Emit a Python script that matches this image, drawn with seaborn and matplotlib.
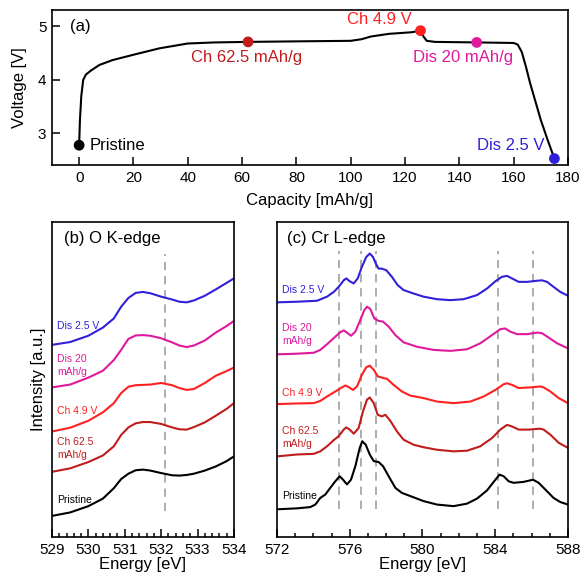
import numpy as np
import pandas as pd
import matplotlib
matplotlib.use("Agg")
import matplotlib.pyplot as plt
from matplotlib.ticker import MultipleLocator
import seaborn as sns

# (a) voltage profile
capacity = [0, 0.3, 0.8, 1.5, 2.5, 4.5, 7.5, 12.3, 20, 29.6, 40, 50, 62, 80, 100,
            104, 107.4, 114, 122.4, 125.7, 126.8, 128, 131, 146.4, 160, 161.5,
            163, 164.5, 166, 168, 170, 172.5, 175]
voltage = [2.78, 3.25, 3.7, 4.0, 4.1, 4.18, 4.28, 4.37, 4.47, 4.59, 4.68, 4.70,
           4.71, 4.72, 4.73, 4.76, 4.81, 4.86, 4.89, 4.92, 4.81, 4.73, 4.71, 4.70,
           4.69, 4.66, 4.52, 4.25, 3.95, 3.6, 3.25, 2.88, 2.53]

states = ["Pristine", "Ch 62.5 mAh/g", "Ch 4.9 V", "Dis 20 mAh/g", "Dis 2.5 V"]
state_cap = [0, 62.2, 125.7, 146.4, 175]
state_volt = [2.78, 4.71, 4.92, 4.70, 2.53]
state_colors = ["#000000", "#c01c1c", "#ff2020", "#e0189c", "#3020d8"]

# (b) O K-edge
o_energy = [529, 529.5, 530, 530.4, 530.7, 530.9, 531.1, 531.3, 531.5, 531.7,
            532.0, 532.3, 532.5, 532.7, 532.9, 533.2, 533.5, 533.8, 534]
o_pristine = [6.7, 7.8, 9.8, 12.2, 15.5, 18.4, 20.1, 21.2, 21.4, 21.1, 20.3, 19.6,
              19.5, 19.7, 20.1, 21.1, 22.4, 24.1, 25.6]
o_ch62 = [20.7, 21.8, 23.8, 25.9, 28.8, 32.4, 34.8, 36.1, 36.5, 36.5, 35.9, 34.8,
          34.2, 34.1, 34.9, 36.4, 38.5, 40.7, 42.5]
o_ch49 = [33.5, 34.7, 36.9, 39.6, 42.5, 45.7, 47.7, 48.2, 48.3, 48.4, 48.9, 48.2,
          47.3, 46.7, 47.0, 48.9, 51.2, 52.7, 53.8]
o_dis20 = [47.5, 48.4, 50.6, 52.8, 56.2, 59.4, 62.9, 64.0, 64.1, 63.9, 63.1, 61.8,
           60.8, 60.3, 60.8, 62.4, 64.9, 67.0, 68.6]
o_dis25 = [61.0, 61.9, 63.9, 66.5, 69.4, 73.1, 75.9, 77.5, 77.8, 77.4, 76.3, 75.4,
           74.7, 74.5, 75.1, 76.6, 78.6, 80.7, 82.1]
o_marks = [532.1]

# (c) Cr L-edge
cr_e_pristine = [572.00, 573.10, 573.83, 574.11, 574.38, 574.66, 574.93, 575.21,
                 575.45, 575.63, 575.85, 576.07, 576.31, 576.55, 576.69, 576.88,
                 577.10, 577.32, 577.59, 577.83, 578.14, 578.51, 578.87, 579.33,
                 580.06, 580.80, 581.71, 582.45, 583.00, 583.55, 584.01, 584.24,
                 584.46, 584.74, 585.01, 585.56, 586.08, 586.39, 586.75, 587.21,
                 587.58, 588.00]
cr_pristine = [8.8, 9.1, 9.5, 10.3, 12.4, 13.5, 15.6, 17.7, 19.3, 18.2, 16.7, 18.2,
               22.5, 28.3, 30.4, 29.3, 26.2, 24.1, 23.8, 22.5, 19.3, 15.6, 14.0,
               13.0, 11.4, 10.3, 9.8, 10.6, 12.2, 14.8, 18.2, 19.8, 19.3, 17.7,
               17.2, 17.5, 18.2, 17.2, 15.1, 12.4, 11.1, 10.3]
cr_e_ch62 = [572.00, 573.10, 574.02, 574.38, 574.75, 575.15, 575.39, 575.67, 575.81,
             576.00, 576.22, 576.49, 576.73, 576.95, 577.10, 577.32, 577.54, 577.77,
             577.96, 578.23, 578.60, 578.96, 579.51, 580.06, 580.80, 581.71, 582.45,
             583.18, 583.82, 584.28, 584.65, 584.92, 585.29, 585.84, 586.48, 586.66,
             587.03, 587.49, 588.00]
cr_ch62 = [25.6, 26.2, 26.4, 27.2, 28.8, 30.9, 32.0, 34.1, 34.8, 34.1, 32.8, 34.6,
           39.9, 43.6, 44.3, 42.5, 38.8, 38.3, 38.8, 36.9, 33.5, 30.9, 29.3, 28.5,
           27.7, 27.2, 27.4, 28.8, 31.4, 34.1, 35.6, 35.1, 34.1, 34.1, 34.4, 34.1,
           32.5, 29.9, 28.3]
cr_e_ch49 = [572.00, 573.10, 574.02, 574.38, 574.75, 575.21, 575.57, 575.76, 575.94,
             576.18, 576.40, 576.67, 576.91, 577.10, 577.32, 577.54, 577.77, 578.05,
             578.41, 578.87, 579.33, 580.06, 580.80, 581.71, 582.63, 583.36, 584.01,
             584.46, 584.65, 584.92, 585.29, 585.93, 586.48, 586.66, 587.03, 587.49,
             588.00]
cr_ch49 = [42.2, 42.4, 42.5, 43.2, 44.6, 46.2, 47.5, 48.1, 47.6, 46.7, 47.8, 51.5,
           53.9, 54.4, 53.1, 51.0, 50.6, 50.2, 48.3, 46.2, 44.9, 44.1, 43.0, 42.5,
           43.0, 44.6, 46.7, 48.5, 48.8, 48.3, 47.3, 47.5, 47.8, 47.5, 46.2, 44.1,
           42.5]
cr_e_dis20 = [572.00, 573.10, 574.02, 574.38, 574.75, 575.15, 575.48, 575.67, 575.89,
              576.07, 576.31, 576.58, 576.80, 576.95, 577.13, 577.35, 577.59, 577.83,
              578.14, 578.51, 578.96, 579.70, 580.61, 581.53, 582.45, 583.18, 583.82,
              584.28, 584.55, 584.83, 585.20, 585.75, 586.30, 586.57, 586.94, 587.40,
              588.00]
cr_dis20 = [58.0, 58.2, 58.5, 59.4, 61.2, 63.3, 65.0, 65.6, 64.7, 63.9, 65.2, 68.9,
            72.0, 73.1, 72.4, 69.4, 68.6, 68.4, 66.8, 64.1, 61.8, 60.4, 59.4, 59.1,
            59.6, 61.5, 64.1, 66.0, 66.2, 65.2, 64.4, 64.4, 64.9, 64.7, 63.3, 61.5,
            59.9]
cr_e_dis25 = [572.00, 573.10, 574.20, 574.75, 575.12, 575.39, 575.67, 575.81, 576.00,
              576.22, 576.44, 576.67, 576.91, 577.10, 577.28, 577.46, 577.59, 577.77,
              578.01, 578.32, 578.63, 578.96, 579.51, 580.06, 580.80, 581.53, 582.26,
              583.00, 583.55, 584.01, 584.37, 584.65, 584.92, 585.29, 585.75, 586.20,
              586.57, 586.85, 587.21, 587.58, 588.00]
cr_dis25 = [74.5, 74.7, 75.0, 76.3, 77.8, 79.4, 81.5, 82.1, 81.2, 80.5, 82.1, 85.8,
            88.9, 90.0, 88.9, 86.5, 85.2, 85.2, 84.7, 82.6, 80.0, 78.4, 77.3, 76.3,
            75.5, 75.2, 75.5, 76.8, 78.9, 81.2, 82.6, 82.9, 82.1, 81.0, 81.0, 81.3,
            81.5, 81.0, 79.4, 77.8, 76.6]
cr_marks = [575.39, 576.64, 577.46, 584.15, 586.08]

spec_labels = ["Pristine", "Ch 62.5\nmAh/g", "Ch 4.9 V", "Dis 20\nmAh/g", "Dis 2.5 V"]
o_label_y = [11.9, 28.0, 39.9, 54.4, 67.1]
cr_label_y = [13.0, 31.5, 45.7, 64.2, 78.4]

sns.set_theme(style="ticks")
plt.rcParams["font.family"] = ["Liberation Sans", "DejaVu Sans"]
plt.rcParams.update({
    "axes.linewidth": 1.2,
    "axes.edgecolor": "black",
    "text.color": "black",
    "axes.labelcolor": "black",
    "xtick.color": "black",
    "ytick.color": "black",
})

fig = plt.figure(figsize=(5.82, 5.77), dpi=100)
ax_a = fig.add_axes([0.0893, 0.7140, 0.8866, 0.2686])
ax_b = fig.add_axes([0.0893, 0.0693, 0.3127, 0.5459])
ax_c = fig.add_axes([0.4759, 0.0693, 0.5000, 0.5459])

# panel (a)
sns.lineplot(x=capacity, y=voltage, ax=ax_a, color="black", lw=1.5,
             sort=False, estimator=None)
sns.scatterplot(x=state_cap, y=state_volt, hue=states, palette=state_colors,
                s=60, edgecolor="none", legend=False, ax=ax_a, zorder=3)
ax_a.set_xlim(-10, 180)
ax_a.set_ylim(2.41, 5.305)
ax_a.xaxis.set_major_locator(MultipleLocator(20))
ax_a.yaxis.set_major_locator(MultipleLocator(1))
ax_a.tick_params(direction="in", length=5.5, width=1.1, labelsize=11, pad=4)
ax_a.set_xlabel("Capacity [mAh/g]", fontsize=12, labelpad=6)
ax_a.set_ylabel("Voltage [V]", fontsize=12, labelpad=8)
ax_a.text(-3.5, 5.0, "(a)", fontsize=12, va="center", ha="left")
ax_a.text(3.9, 2.78, states[0], fontsize=12, va="center", ha="left", color=state_colors[0])
ax_a.text(61.5, 4.42, states[1], fontsize=12, va="center", ha="center", color=state_colors[1])
ax_a.text(110.7, 5.13, states[2], fontsize=12, va="center", ha="center", color=state_colors[2])
ax_a.text(141.5, 4.42, states[3], fontsize=12, va="center", ha="center", color=state_colors[3])
ax_a.text(158.9, 2.78, states[4], fontsize=12, va="center", ha="center", color=state_colors[4])

# panels (b) and (c)
o_curves = [o_pristine, o_ch62, o_ch49, o_dis20, o_dis25]
for ys, col in zip(o_curves, state_colors):
    sns.lineplot(x=o_energy, y=ys, ax=ax_b, color=col, lw=1.5, sort=False, estimator=None)
cr_curves = [(cr_e_pristine, cr_pristine), (cr_e_ch62, cr_ch62), (cr_e_ch49, cr_ch49),
             (cr_e_dis20, cr_dis20), (cr_e_dis25, cr_dis25)]
for (xs, ys), col in zip(cr_curves, state_colors):
    sns.lineplot(x=xs, y=ys, ax=ax_c, color=col, lw=1.5, sort=False, estimator=None)

for e in o_marks:
    ax_b.plot([e, e], [8.2, 90], color="#a0a0a0", lw=1.2, ls=(0, (5, 3.5)), zorder=0)
for e in cr_marks:
    ax_c.plot([e, e], [8.8, 90.7], color="#a0a0a0", lw=1.2, ls=(0, (5, 3.5)), zorder=0)

for lab, y, col in zip(spec_labels, o_label_y, state_colors):
    ax_b.text(529.14, y, lab, fontsize=7.5, color=col, va="center", ha="left", linespacing=1.4)
for lab, y, col in zip(spec_labels, cr_label_y, state_colors):
    ax_c.text(572.27, y, lab, fontsize=7.5, color=col, va="center", ha="left", linespacing=1.4)

ax_b.text(529.32, 94.7, "(b) O K-edge", fontsize=12, va="center", ha="left")
ax_c.text(572.55, 94.9, "(c) Cr L-edge", fontsize=12, va="center", ha="left")

ax_b.set_xlim(529, 534)
ax_c.set_xlim(572, 588)
for ax in (ax_b, ax_c):
    ax.set_ylim(0, 100)
    ax.set_yticks([])
    ax.tick_params(axis="x", which="major", direction="in", length=5.5, width=1.1,
                   labelsize=11, pad=4)
    ax.tick_params(axis="x", which="minor", direction="in", length=3, width=1.1)
    ax.set_xlabel("Energy [eV]", fontsize=12, labelpad=0.5)
ax_b.xaxis.set_major_locator(MultipleLocator(1))
ax_b.xaxis.set_minor_locator(MultipleLocator(0.2))
ax_c.xaxis.set_major_locator(MultipleLocator(4))
ax_c.xaxis.set_minor_locator(MultipleLocator(1))
ax_b.set_ylabel("Intensity [a.u.]", fontsize=12, labelpad=4)

fig.savefig("out.png", dpi=100)
